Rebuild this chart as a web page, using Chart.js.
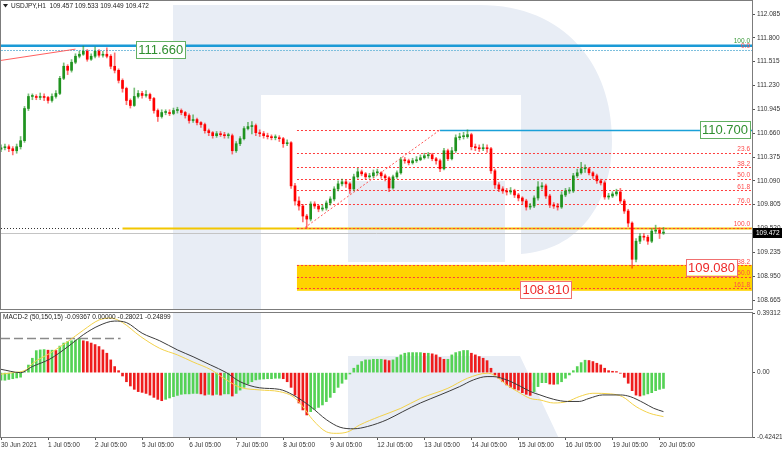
<!DOCTYPE html>
<html lang="en">
<head>
<meta charset="utf-8">
<title>USDJPY H1</title>
<style>
  body { margin: 0; background: #fff; }
  #wrap { position: relative; width: 782px; height: 451px; overflow: hidden; }
  canvas { position: absolute; left: 0; }
</style>
</head>
<body>
<div id="wrap">
  <canvas id="price" width="782" height="310" style="top:0"></canvas>
  <canvas id="macd" width="782" height="142" style="top:309px"></canvas>
</div>
<script src="https://cdn.jsdelivr.net/npm/chart.js@4.4.1/dist/chart.umd.min.js"></script>
<script>
// axis labels
const dayLabels = ['30 Jun 2021', '1 Jul 05:00', '2 Jul 05:00', '5 Jul 05:00', '6 Jul 05:00', '7 Jul 05:00',
  '8 Jul 05:00', '9 Jul 05:00', '12 Jul 05:00', '13 Jul 05:00', '14 Jul 05:00', '15 Jul 05:00',
  '16 Jul 05:00', '19 Jul 05:00', '20 Jul 05:00'];
const priceTicks = [112.085, 111.800, 111.515, 111.230, 110.945, 110.660, 110.375, 110.090,
  109.805, 109.520, 109.235, 108.950, 108.665];
const macdTicks = [0.39312, 0, -0.42421];

// candles, one every 2 hours (hour index = i * 2)
const firstOpen = 110.470;
const closes = [
  110.486, 110.498, 110.474, 110.450, 110.498, 110.570, 110.955, 111.099, 111.099, 111.087,
  111.099, 111.087, 111.051, 111.099, 111.135, 111.316, 111.460, 111.412, 111.508, 111.580,
  111.604, 111.640, 111.544, 111.580, 111.640, 111.592, 111.604, 111.580, 111.460, 111.412,
  111.291, 111.195, 111.051, 110.991, 111.099, 111.135, 111.111, 111.123, 111.075, 110.931,
  110.859, 110.907, 110.907, 110.895, 110.931, 110.931, 110.907, 110.871, 110.811, 110.823,
  110.787, 110.763, 110.690, 110.666, 110.630, 110.654, 110.642, 110.630, 110.630, 110.450,
  110.534, 110.594, 110.715, 110.739, 110.751, 110.666, 110.654, 110.630, 110.618, 110.606,
  110.606, 110.594, 110.534, 110.546, 110.030, 109.849, 109.789, 109.669, 109.633, 109.813,
  109.789, 109.753, 109.765, 109.825, 109.873, 109.993, 110.054, 110.078, 110.054, 109.993,
  110.138, 110.198, 110.174, 110.138, 110.150, 110.186, 110.186, 110.150, 110.126, 110.005,
  110.138, 110.186, 110.342, 110.330, 110.306, 110.330, 110.342, 110.366, 110.390, 110.402,
  110.354, 110.330, 110.234, 110.450, 110.354, 110.450, 110.606, 110.618, 110.618, 110.642,
  110.498, 110.486, 110.474, 110.486, 110.474, 110.210, 110.042, 109.993, 109.969, 109.957,
  109.969, 109.921, 109.885, 109.849, 109.777, 109.789, 109.885, 110.018, 110.030, 109.909,
  109.801, 109.789, 109.777, 109.921, 109.969, 109.969, 110.150, 110.186, 110.234, 110.234,
  110.186, 110.150, 110.090, 110.066, 109.897, 109.909, 109.933, 109.957, 109.849, 109.729,
  109.585, 109.152, 109.368, 109.428, 109.416, 109.368, 109.489, 109.501, 109.465, 109.472];
const highs = [
  110.520, 110.530, 110.520, 110.500, 110.530, 110.620, 110.980, 111.130, 111.130, 111.120,
  111.140, 111.130, 111.100, 111.130, 111.170, 111.340, 111.500, 111.480, 111.540, 111.610,
  111.640, 111.700, 111.660, 111.610, 111.690, 111.660, 111.640, 111.680, 111.600, 111.620,
  111.430, 111.310, 111.210, 111.070, 111.200, 111.170, 111.160, 111.170, 111.140, 111.090,
  110.950, 110.940, 110.940, 110.940, 110.960, 110.970, 110.950, 110.920, 110.890, 110.880,
  110.840, 110.800, 110.780, 110.710, 110.680, 110.680, 110.680, 110.670, 110.660, 110.650,
  110.560, 110.620, 110.740, 110.790, 110.800, 110.770, 110.700, 110.680, 110.660, 110.640,
  110.640, 110.630, 110.610, 110.580, 110.560, 110.060, 109.900, 109.810, 109.690, 109.840,
  109.840, 109.800, 109.800, 109.850, 109.900, 110.020, 110.090, 110.110, 110.100, 110.070,
  110.170, 110.240, 110.220, 110.190, 110.180, 110.220, 110.230, 110.200, 110.170, 110.140,
  110.160, 110.210, 110.370, 110.370, 110.350, 110.360, 110.380, 110.400, 110.420, 110.430,
  110.420, 110.370, 110.350, 110.480, 110.470, 110.490, 110.640, 110.660, 110.670, 110.700,
  110.660, 110.530, 110.520, 110.530, 110.520, 110.490, 110.230, 110.070, 110.020, 110.000,
  110.010, 109.990, 109.940, 109.900, 109.870, 109.820, 109.910, 110.080, 110.070, 110.050,
  109.930, 109.830, 109.820, 109.960, 110.000, 110.010, 110.180, 110.230, 110.310, 110.280,
  110.250, 110.200, 110.170, 110.110, 110.090, 109.940, 109.960, 109.990, 110.000, 109.870,
  109.750, 109.600, 109.400, 109.460, 109.460, 109.440, 109.520, 109.560, 109.530, 109.533];
const lows = [
  110.440, 110.460, 110.440, 110.400, 110.420, 110.470, 110.550, 110.930, 111.060, 111.060,
  111.060, 111.050, 111.020, 111.030, 111.080, 111.120, 111.300, 111.360, 111.390, 111.490,
  111.560, 111.590, 111.520, 111.530, 111.560, 111.570, 111.570, 111.560, 111.430, 111.380,
  111.260, 111.150, 111.000, 110.960, 110.980, 111.080, 111.080, 111.090, 111.050, 110.900,
  110.800, 110.840, 110.880, 110.870, 110.880, 110.900, 110.880, 110.840, 110.780, 110.790,
  110.760, 110.730, 110.660, 110.630, 110.600, 110.610, 110.620, 110.600, 110.600, 110.410,
  110.430, 110.510, 110.580, 110.700, 110.650, 110.630, 110.620, 110.600, 110.590, 110.580,
  110.580, 110.560, 110.490, 110.510, 110.000, 109.800, 109.740, 109.600, 109.530, 109.610,
  109.760, 109.720, 109.730, 109.740, 109.800, 109.850, 109.970, 110.030, 110.010, 109.940,
  109.970, 110.120, 110.150, 110.110, 110.120, 110.130, 110.160, 110.120, 110.090, 109.960,
  109.990, 110.120, 110.170, 110.300, 110.280, 110.290, 110.310, 110.330, 110.350, 110.360,
  110.330, 110.290, 110.200, 110.220, 110.330, 110.340, 110.430, 110.580, 110.590, 110.600,
  110.460, 110.450, 110.440, 110.450, 110.430, 110.180, 110.000, 109.960, 109.940, 109.920,
  109.930, 109.890, 109.850, 109.810, 109.740, 109.750, 109.770, 109.860, 109.990, 109.880,
  109.770, 109.760, 109.740, 109.760, 109.900, 109.940, 109.950, 110.130, 110.170, 110.190,
  110.160, 110.120, 110.060, 110.040, 109.870, 109.870, 109.890, 109.910, 109.820, 109.700,
  109.540, 109.045, 109.120, 109.340, 109.380, 109.330, 109.350, 109.460, 109.400, 109.449];

// MACD histogram, same 2-hour steps
const hist = [
  -0.050, -0.050, -0.045, -0.040, -0.035, -0.030, 0.005, 0.050, 0.095, 0.145,
  0.150, 0.152, 0.148, 0.148, 0.146, 0.175, 0.195, 0.205, 0.210, 0.215,
  0.220, 0.210, 0.205, 0.195, 0.185, 0.172, 0.150, 0.128, 0.084, 0.040,
  0.013, -0.022, -0.060, -0.088, -0.110, -0.125, -0.130, -0.137, -0.148, -0.163,
  -0.176, -0.185, -0.176, -0.167, -0.158, -0.150, -0.143, -0.140, -0.140, -0.137,
  -0.137, -0.140, -0.148, -0.143, -0.148, -0.143, -0.148, -0.140, -0.140, -0.154,
  -0.137, -0.115, -0.097, -0.075, -0.060, -0.048, -0.044, -0.042, -0.040, -0.040,
  -0.037, -0.037, -0.040, -0.060, -0.097, -0.148, -0.200, -0.246, -0.279, -0.257,
  -0.242, -0.229, -0.213, -0.191, -0.163, -0.132, -0.097, -0.070, -0.044, -0.009,
  0.029, 0.050, 0.073, 0.084, 0.084, 0.088, 0.088, 0.088, 0.084, 0.079,
  0.084, 0.100, 0.117, 0.128, 0.132, 0.132, 0.132, 0.132, 0.128, 0.128,
  0.124, 0.117, 0.100, 0.088, 0.088, 0.117, 0.132, 0.139, 0.146, 0.146,
  0.128, 0.117, 0.106, 0.095, 0.079, 0.029, -0.015, -0.037, -0.060, -0.081,
  -0.097, -0.108, -0.115, -0.132, -0.143, -0.150, -0.125, -0.092, -0.066, -0.066,
  -0.075, -0.077, -0.075, -0.060, -0.037, -0.015, 0.013, 0.040, 0.066, 0.082,
  0.080, 0.073, 0.062, 0.051, 0.029, 0.013, 0.009, 0.007, -0.004, -0.031,
  -0.070, -0.119, -0.148, -0.154, -0.148, -0.140, -0.132, -0.119, -0.110, -0.104];

// MACD lines, read at these hour indexes
const macdHours = [0, 10, 16, 25, 34, 42, 50, 58, 64, 72, 81, 90, 98, 107, 115, 122, 132, 142, 149, 158,
  166, 173, 180, 187, 197, 205, 214, 224, 234, 241, 248, 251, 258, 265, 270, 275, 282, 289, 295, 300,
  307, 316, 321, 328, 333, 338];
const macdLine = [0.022, 0.0, 0.04, 0.09, 0.17, 0.25, 0.31, 0.34, 0.33, 0.26, 0.21, 0.15, 0.105, 0.05, 0.0,
  -0.06, -0.10, -0.11, -0.147, -0.224, -0.31, -0.36, -0.37, -0.355, -0.31, -0.257, -0.20, -0.147, -0.092,
  -0.048, -0.026, -0.026, -0.048, -0.09, -0.124, -0.147, -0.176, -0.19, -0.19, -0.17, -0.147, -0.147,
  -0.158, -0.20, -0.235, -0.257];
const signalHours = [0, 6, 13, 16, 25, 34, 42, 50, 56, 62, 71, 81, 90, 98, 107, 115, 122, 132, 142, 149,
  154, 159, 166, 171, 177, 183, 193, 204, 214, 228, 238, 248, 251, 258, 265, 270, 275, 282, 289, 295,
  302, 311, 317, 324, 331, 338];
const signalLine = [-0.01, 0.0, 0.02, 0.06, 0.128, 0.204, 0.28, 0.347, 0.36, 0.33, 0.24, 0.16, 0.117, 0.07,
  0.02, -0.048, -0.097, -0.114, -0.125, -0.158, -0.224, -0.31, -0.39, -0.40, -0.39, -0.345, -0.29, -0.235,
  -0.17, -0.103, -0.037, -0.004, -0.012, -0.08, -0.136, -0.17, -0.18, -0.20, -0.19, -0.158, -0.136, -0.14,
  -0.158, -0.224, -0.268, -0.29];
const macdOldLevel = 0.23;

// drawn objects on the price pane
const topLine = 111.705;
const topLevel = 111.660;
const trend1Hours = [0, 38];
const trend1Prices = [111.53, 111.665];
const oldLevel = 109.525;
const oldLevelStart = 62;
const fibStartHour = 151;
const fibLowHour = 155;
const fibHighHour = 224;
const fibLevels = [110.700, 110.424, 110.253, 110.115, 109.977, 109.811, 109.530, 109.083, 108.945, 108.807];
const fibLabels = ['0.0', '23.6', '38.2', '50.0', '61.8', '76.0', '100.0', '138.2', '150.0', '161.8'];
const targetZone = [109.085, 108.775];
const header = 'USDJPY,H1  109.457 109.533 109.449 109.472';
const macdHeader = 'MACD-2 (50,150,15) -0.09367 0.00000 -0.28021 -0.24899';

const opens = closes.map((c, i) => i ? closes[i - 1] : firstOpen);
const lastPrice = closes[closes.length - 1];
const small = '6.5px "Liberation Sans"';
const xMax = 751 / 1.96;

function seg(ctx, x0, y0, x1, y1, color, w, dash) {
  ctx.save();
  ctx.strokeStyle = color;
  ctx.lineWidth = w;
  ctx.setLineDash(dash || []);
  ctx.beginPath();
  ctx.moveTo(x0, y0);
  ctx.lineTo(x1, y1);
  ctx.stroke();
  ctx.restore();
}

// faint "R" watermark behind everything (page coordinates)
function drawWatermark(ctx, dy) {
  ctx.save();
  ctx.translate(0, -dy);
  ctx.fillStyle = '#e8edf5';
  ctx.beginPath();
  ctx.rect(173, 5, 88, 442);
  // top bar and bowl
  ctx.moveTo(261, 5);
  ctx.lineTo(480, 5);
  ctx.bezierCurveTo(565, 5, 612, 65, 612, 140);
  ctx.bezierCurveTo(612, 205, 578, 250, 521, 254);
  ctx.lineTo(521, 95);
  ctx.lineTo(261, 95);
  ctx.closePath();
  // middle bar
  ctx.rect(348, 181, 157, 81);
  // leg
  ctx.moveTo(348, 356);
  ctx.lineTo(520, 356);
  ctx.lineTo(563, 447);
  ctx.lineTo(348, 447);
  ctx.closePath();
  ctx.fill();
  ctx.restore();
}

function textBox(ctx, text, x, yc, color, border, alignRight) {
  ctx.save();
  ctx.font = '13px "Liberation Sans"';
  const w = ctx.measureText(text).width + 4;
  const left = alignRight ? x - w : x;
  ctx.fillStyle = '#fff';
  ctx.fillRect(left, yc - 8.5, w, 17);
  ctx.strokeStyle = border;
  ctx.lineWidth = 1;
  ctx.strokeRect(Math.round(left) + 0.5, Math.round(yc - 8.5) + 0.5, Math.round(w), 17);
  ctx.fillStyle = color;
  ctx.textBaseline = 'middle';
  ctx.fillText(text, left + 2, yc + 1);
  ctx.restore();
}

const pricePlugin = {
  id: 'priceDecor',
  beforeDatasetsDraw(chart) {
    const { ctx, chartArea: a, scales: { x, y } } = chart;
    const X = v => x.getPixelForValue(v);
    const Y = v => Math.round(y.getPixelForValue(v)) + 0.5;
    ctx.save();
    ctx.beginPath();
    ctx.rect(a.left, a.top, a.right - a.left, a.bottom - a.top);
    ctx.clip();
    drawWatermark(ctx, 0);
    const zt = y.getPixelForValue(targetZone[0]);
    const zb = y.getPixelForValue(targetZone[1]);
    ctx.fillStyle = '#ffd400';
    ctx.fillRect(X(fibStartHour), zt, a.right - X(fibStartHour), zb - zt);
    seg(ctx, a.left, Y(lastPrice), a.right, Y(lastPrice), '#c4c4c4', 1);
    seg(ctx, X(oldLevelStart), Y(oldLevel), a.right, Y(oldLevel), '#f2c600', 2);
    seg(ctx, a.left, Y(oldLevel), X(oldLevelStart - 1), Y(oldLevel), '#333', 1, [1, 2]);
    fibLevels.forEach(v => seg(ctx, X(fibStartHour), Y(v), a.right, Y(v), '#ff3c3c', 1, [2, 2]));
    seg(ctx, X(fibHighHour), Y(fibLevels[0]), a.right, Y(fibLevels[0]), '#1aa0d8', 1.5);
    seg(ctx, X(fibLowHour), y.getPixelForValue(fibLevels[6]), X(fibHighHour), y.getPixelForValue(fibLevels[0]),
      '#ff5a5a', 1, [2, 2]);
    seg(ctx, a.left, Y(topLevel), a.right, Y(topLevel), '#7dbfdd', 1, [2, 1]);
    seg(ctx, a.left, y.getPixelForValue(topLine), a.right, y.getPixelForValue(topLine), '#1b9ad6', 2.5);
    seg(ctx, X(trend1Hours[0]), y.getPixelForValue(trend1Prices[0]), X(trend1Hours[1]),
      y.getPixelForValue(trend1Prices[1]), '#ff6060', 1);
    ctx.restore();
  },
  afterDatasetsDraw(chart) {
    const { ctx, chartArea: a, scales: { x, y } } = chart;
    const X = v => x.getPixelForValue(v);
    ctx.save();
    ctx.font = small;
    ctx.textAlign = 'right';
    ctx.textBaseline = 'bottom';
    fibLevels.forEach((v, i) => {
      ctx.fillStyle = '#ff4a4a';
      ctx.fillText(fibLabels[i], a.right - 2, y.getPixelForValue(v));
    });
    ctx.fillStyle = '#3a9a3a';
    ctx.fillText('100.0', a.right - 2, y.getPixelForValue(topLine) - 1);
    ctx.fillStyle = '#ff4a4a';
    ctx.fillText('0.0', a.right - 2, y.getPixelForValue(topLevel));
    ctx.restore();

    textBox(ctx, topLevel.toFixed(3), X(69), y.getPixelForValue(topLevel), '#2f8f2f', '#62b062', false);
    textBox(ctx, fibLevels[0].toFixed(3), a.right - 2, y.getPixelForValue(fibLevels[0]), '#2f8f2f', '#62b062', true);
    textBox(ctx, '109.080', a.right - 15, y.getPixelForValue(fibLevels[7]) + 2, '#ee2a2a', '#f07070', true);
    textBox(ctx, '108.810', X(265), y.getPixelForValue(fibLevels[9]) + 1, '#ee2a2a', '#f07070', false);
  },
  afterDraw(chart) {
    const { ctx, chartArea: a, scales: { y } } = chart;
    ctx.save();
    ctx.strokeStyle = '#7c7c7c';
    ctx.lineWidth = 1;
    ctx.strokeRect(0.5, 0.5, a.right, a.bottom);
    seg(ctx, 0, a.bottom + 1.5, a.right + 1, a.bottom + 1.5, '#9a9a9a', 1);
    // current price tag
    const yc = Math.round(y.getPixelForValue(lastPrice));
    ctx.fillStyle = '#000';
    ctx.fillRect(a.right + 1, yc - 5, 30, 10);
    ctx.fillStyle = '#fff';
    ctx.font = small;
    ctx.textBaseline = 'middle';
    ctx.fillText(lastPrice.toFixed(3), a.right + 4, yc);
    // header
    ctx.fillStyle = '#222';
    ctx.beginPath();
    ctx.moveTo(3, 4); ctx.lineTo(8, 4); ctx.lineTo(5.5, 7.5); ctx.closePath();
    ctx.fill();
    ctx.fillText(header, 11, 6);
    ctx.restore();
  }
};

const macdPlugin = {
  id: 'macdDecor',
  beforeDatasetsDraw(chart) {
    const { ctx, chartArea: a, scales: { x, y } } = chart;
    ctx.save();
    ctx.beginPath();
    ctx.rect(a.left, a.top, a.right - a.left, a.bottom - a.top);
    ctx.clip();
    drawWatermark(ctx, 309);
    const yy = Math.round(y.getPixelForValue(macdOldLevel)) + 0.5;
    seg(ctx, a.left, yy, x.getPixelForValue(61), yy, '#8a8a8a', 1.5, [9, 4]);
    ctx.restore();
  },
  afterDraw(chart) {
    const { ctx, chartArea: a } = chart;
    ctx.save();
    ctx.strokeStyle = '#7c7c7c';
    ctx.lineWidth = 1;
    ctx.strokeRect(0.5, a.top - 0.5, a.right, a.bottom - a.top + 1);
    ctx.fillStyle = '#222';
    ctx.font = small;
    ctx.textBaseline = 'middle';
    ctx.fillText(macdHeader, 3, a.top + 4);
    ctx.restore();
  }
};

const upColor = '#1f931f', downColor = '#ff0000';
// keep the y axes from adding label room above and below the plot
const fixY = s => { s.width = 30; s.paddingTop = 0; s.paddingBottom = 0; };

new Chart(document.getElementById('price'), {
  type: 'bar',
  data: {
    datasets: [{
      data: closes.map((c, i) => ({ x: i * 2, y: [lows[i], highs[i]] })),
      backgroundColor: c => closes[c.dataIndex] >= opens[c.dataIndex] ? 'rgba(31,147,31,0.6)' : 'rgba(255,0,0,0.55)',
      barThickness: 1, grouped: false, minBarLength: 1
    }, {
      data: closes.map((c, i) => ({ x: i * 2, y: [opens[i], c] })),
      backgroundColor: c => closes[c.dataIndex] >= opens[c.dataIndex] ? upColor : downColor,
      barThickness: 2, grouped: false, minBarLength: 1
    }]
  },
  options: {
    responsive: false,
    animation: false,
    events: [],
    layout: { padding: { top: 1, left: 1, right: 0, bottom: 1 } },
    plugins: { legend: { display: false }, tooltip: { enabled: false } },
    scales: {
      x: { type: 'linear', min: 0, max: xMax, offset: false, display: false },
      y: {
        position: 'right', min: 108.5574, max: 112.2405,
        afterBuildTicks: s => { s.ticks = priceTicks.map(v => ({ value: v })); },
        afterFit: fixY,
        ticks: { font: { family: 'Liberation Sans', size: 6.5 }, color: '#333', padding: 2,
          callback: v => v.toFixed(3) },
        grid: { drawOnChartArea: false, tickLength: 3, color: '#555' },
        border: { display: false }
      }
    }
  },
  plugins: [pricePlugin]
});

new Chart(document.getElementById('macd'), {
  type: 'bar',
  data: {
    datasets: [{
      type: 'line',
      data: macdHours.map((h, i) => ({ x: h, y: macdLine[i] })),
      borderColor: '#3c3c3c', borderWidth: 1, pointRadius: 0, tension: 0.4,
      cubicInterpolationMode: 'monotone', order: 1
    }, {
      type: 'line',
      data: signalHours.map((h, i) => ({ x: h, y: signalLine[i] })),
      borderColor: '#f3d24a', borderWidth: 1, pointRadius: 0, tension: 0.4,
      cubicInterpolationMode: 'monotone', order: 1
    }, {
      data: hist.map((v, i) => ({ x: i * 2, y: v })),
      backgroundColor: c => (c.dataIndex === 0 || hist[c.dataIndex] >= hist[c.dataIndex - 1]) ? '#55d255' : '#ee1c1c',
      barThickness: 2, grouped: false, order: 2
    }]
  },
  options: {
    responsive: false,
    animation: false,
    events: [],
    layout: { padding: { top: 4, left: 1, right: 0, bottom: 0 } },
    plugins: { legend: { display: false }, tooltip: { enabled: false } },
    scales: {
      x: {
        type: 'linear', min: 0, max: xMax, offset: false,
        afterBuildTicks: s => { s.ticks = dayLabels.map((d, i) => ({ value: i * 24 })); },
        afterFit: s => { s.height = 14; s.paddingLeft = 0; s.paddingRight = 0; },
        ticks: { autoSkip: false, maxRotation: 0, align: 'start', padding: 1, color: '#333',
          font: { family: 'Liberation Sans', size: 6.5 }, callback: (v, i) => dayLabels[i] },
        grid: { drawOnChartArea: false, tickLength: 3, color: '#555', offset: false },
        border: { display: false }
      },
      y: {
        position: 'right', min: macdTicks[2], max: macdTicks[0],
        afterBuildTicks: s => { s.ticks = macdTicks.map(v => ({ value: v })); },
        afterFit: fixY,
        ticks: { font: { family: 'Liberation Sans', size: 6.5 }, color: '#333', padding: 2,
          callback: v => v === 0 ? '0.00' : v.toFixed(5) },
        grid: { drawOnChartArea: false, tickLength: 3, color: '#555' },
        border: { display: false }
      }
    }
  },
  plugins: [macdPlugin]
});
</script>
</body>
</html>
